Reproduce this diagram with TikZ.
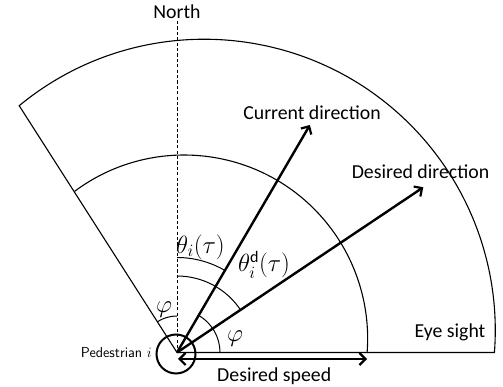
\documentclass[tikz,border=0pt]{standalone}
\usepackage{fontspec}
\setmainfont{Carlito}
\usetikzlibrary{arrows.meta}
\begin{document}
\begin{tikzpicture}[x=1pt,y=1pt,
  thinln/.style={line width=1.1pt},
  anglearc/.style={line width=1pt},
  barb/.tip={Straight Barb[length=6pt,width=12pt,line width=2.2pt]},
  vec/.style={line width=2.4pt,-barb},
  lbl/.style={font=\fontsize{19.8}{22}\selectfont, inner sep=0pt},
  mlbl/.style={font=\fontsize{23}{25}\selectfont, inner sep=0pt},
  ]
\useasboundingbox (0,0) rectangle (503,387);
% key points
\coordinate (O) at (177,34.5);
\coordinate (A) at (19.2,281.3);
\coordinate (L) at (74.5,195.6);
\coordinate (N) at (177,366);
\coordinate (C) at (309.9,262);
\coordinate (D) at (423.3,199.7);
\coordinate (s1) at (178,28);
\coordinate (s2) at (367,28);
% eye sight sector
\draw[thinln] (O) -- (A) arc[start angle=129.5, end angle=-4.39, radius=291] -- cycle;
% inner arc (desired speed range)
\draw[thinln] (L) arc[start angle=126.7, end angle=-4.38, radius=183.5];
% north line
\draw[line width=0.8pt, dash pattern=on 3.2pt off 2.2pt] (N) -- (O);
\node[lbl, anchor=base] (north) at (177,368) {North};
% angle arcs
\draw[anglearc] (O) ++(90:95) arc[start angle=90, end angle=59.7, radius=95];
\draw[anglearc] (O) ++(90:76.5) arc[start angle=90, end angle=33.85, radius=76.5];
\draw[anglearc] (O) ++(90:36.5) arc[start angle=90, end angle=122.6, radius=36.5];
\draw[anglearc] (O) ++(0:43) arc[start angle=0, end angle=59.7, radius=43];
% direction vectors
\draw[vec] (O) -- (C);
\draw[vec] (O) -- (D);
% pedestrian
\node[circle, draw, line width=2pt, minimum size=39pt, inner sep=0pt] (ped) at (176,33) {};
% desired speed
\draw[line width=2.4pt, barb-barb] (s1) -- (s2);
% labels
\node[lbl, anchor=base] (cur) at (312,267) {Current direction};
\node[lbl, anchor=base] (des) at (420.5,208.7) {Desired direction};
\node[lbl, anchor=base] (eye) at (450,49) {Eye sight};
\node[lbl, anchor=base] (spd) at (274.2,5.3) {Desired speed};
\node[font=\fontsize{14.5}{16}\selectfont\sffamily, inner sep=0pt, anchor=base east] (pedl) at (152,29.3) {Pedestrian $i$};
\node[mlbl] (th) at (200.5,140) {$\theta_i(\tau)$};
\node[mlbl] (thd) at (264,122) {$\theta_i^{\mathrm{d}}(\tau)$};
\node[mlbl] (phl) at (164,77) {$\varphi$};
\node[mlbl] (phr) at (235,48) {$\varphi$};
\end{tikzpicture}
\end{document}
